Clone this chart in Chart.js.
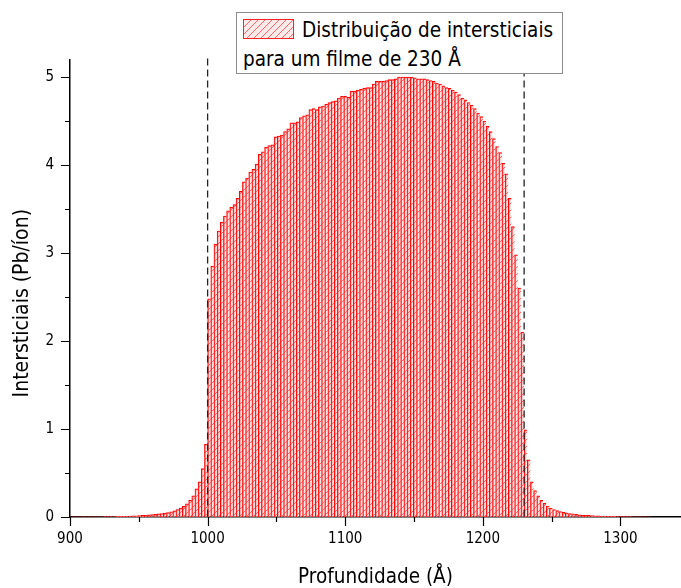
<!DOCTYPE html>
<html>
<head>
<meta charset="utf-8">
<script src="https://cdn.jsdelivr.net/npm/chart.js@4/dist/chart.umd.min.js"></script>
<style>
  html, body { margin: 0; padding: 0; background: #ffffff; }
  #wrap { position: relative; width: 681px; height: 588px; }
  #chart { position: absolute; left: 0; top: 0; }
  #legend {
    position: absolute; left: 236px; top: 12px; width: 325px; height: 60px;
    border: 1px solid #8c8c8c; background: #ffffff;
    font-family: 'DejaVu Sans Condensed', 'DejaVu Sans', sans-serif; font-size: 20.5px; color: #000;
  }
  #legend .swatch { position: absolute; left: 6px; top: 6px; width: 49px; height: 18px; border: 1px solid #ff2020; }
  #legend .l1 { position: absolute; left: 65px; top: 7px; line-height: 21px; white-space: nowrap; }
  #legend .l2 { position: absolute; left: 6px; top: 36px; line-height: 21px; white-space: nowrap; }
</style>
</head>
<body>
<div id="wrap">
  <canvas id="chart" width="681" height="588"></canvas>
  <div id="legend">
    <div class="swatch" id="swatch"></div>
    <div class="l1" id="legendLine1"></div>
    <div class="l2" id="legendLine2"></div>
  </div>
</div>
<script>
// ---------------- data ----------------
const firstBinEdge = 898.8;   // Å, left edge of first histogram bin
const binWidth = 2.3;         // Å per bin

// bins before the film (898.8 – 1000 Å)
const leftTail = [
  0.001, 0.001, 0.001, 0.001, 0.002, 0.002, 0.002, 0.002, 0.003, 0.003,
  0.003, 0.004, 0.004, 0.005, 0.006, 0.007, 0.008, 0.009, 0.010, 0.011,
  0.012, 0.014, 0.016, 0.018, 0.020, 0.024, 0.027, 0.030, 0.035, 0.040,
  0.045, 0.050, 0.060, 0.070, 0.085, 0.100, 0.120, 0.150, 0.190, 0.240,
  0.320, 0.400, 0.550, 0.830
];
// bins inside the 230 Å film (1000 – 1230 Å)
const filmProfile = [
  2.48, 2.85, 3.10, 3.25, 3.35, 3.42, 3.48, 3.52, 3.55, 3.62,
  3.70, 3.81, 3.85, 3.92, 3.95, 4.01, 4.12, 4.15, 4.20, 4.22,
  4.23, 4.32, 4.33, 4.34, 4.38, 4.41, 4.48, 4.48, 4.49, 4.54,
  4.56, 4.57, 4.63, 4.64, 4.63, 4.66, 4.67, 4.69, 4.71, 4.72,
  4.73, 4.76, 4.78, 4.78, 4.77, 4.84, 4.84, 4.85, 4.86, 4.87,
  4.88, 4.88, 4.92, 4.95, 4.95, 4.95, 4.96, 4.97, 4.97, 4.98,
  5.00, 5.00, 5.00, 5.00, 5.00, 4.99, 4.98, 4.98, 4.98, 4.97,
  4.96, 4.95, 4.93, 4.92, 4.90, 4.88, 4.87, 4.85, 4.83, 4.80,
  4.76, 4.74, 4.71, 4.68, 4.64, 4.59, 4.55, 4.50, 4.44, 4.38,
  4.30, 4.21, 4.14, 4.02, 3.90, 3.62, 3.30, 2.98, 2.60, 2.10
];
// bins after the film (1230 Å onward)
const rightTail = [
  0.990, 0.650, 0.400, 0.300, 0.240, 0.190, 0.155, 0.125, 0.100, 0.085,
  0.072, 0.062, 0.053, 0.046, 0.040, 0.035, 0.030, 0.026, 0.023, 0.020,
  0.018, 0.016, 0.014, 0.012, 0.011, 0.010, 0.009, 0.008, 0.007, 0.006,
  0.005, 0.005, 0.004, 0.004, 0.003, 0.002, 0.002, 0.001, 0.001, 0.001
];

const interstitials = leftTail.concat(filmProfile, rightTail);
const depths = interstitials.map((_, i) => +(firstBinEdge + binWidth * (i + 0.5)).toFixed(2));

const filmBoundaries = [1000, 1230];          // dashed markers
const xTickLabels = [900, 1000, 1100, 1200, 1300];
const yTickLabels = [0, 1, 2, 3, 4, 5];

const seriesLabel = ['Distribuição de intersticiais', 'para um filme de 230 Å'];
const xTitle = 'Profundidade (Å)';
const yTitle = 'Intersticiais (Pb/íon)';

// ---------------- styles ----------------
const FONT = "'DejaVu Sans Condensed', 'DejaVu Sans', sans-serif";

function makeHatch() {
  const s = 7;
  const c = document.createElement('canvas');
  c.width = s; c.height = s;
  const g = c.getContext('2d');
  g.fillStyle = 'rgba(255,215,215,0.55)';
  g.fillRect(0, 0, s, s);
  g.strokeStyle = 'rgba(255,70,70,0.8)';
  g.lineWidth = 1;
  g.beginPath();
  g.moveTo(-1, s + 1); g.lineTo(s + 1, -1);
  g.moveTo(-1, 1); g.lineTo(1, -1);
  g.moveTo(s - 1, s + 1); g.lineTo(s + 1, s - 1);
  g.stroke();
  return c;
}
const hatchCanvas = makeHatch();
const ctx = document.getElementById('chart').getContext('2d');
const hatch = ctx.createPattern(hatchCanvas, 'repeat');

// legend (HTML)
document.getElementById('legendLine1').textContent = seriesLabel[0];
document.getElementById('legendLine2').textContent = seriesLabel[1];
document.getElementById('swatch').style.background = 'url(' + hatchCanvas.toDataURL() + ')';

// plugin: tick marks (major + minor) and dashed film boundaries
const extras = {
  id: 'extras',
  afterDraw(chart) {
    const c = chart.ctx;
    const xs = chart.scales.x, ys = chart.scales.y;
    const area = chart.chartArea;
    c.save();
    c.strokeStyle = '#000';
    c.lineWidth = 1.2;
    c.beginPath();
    for (let v = 900; v <= xs.max; v += 50) {
      const px = Math.round(xs.getPixelForValue(v)) + 0.5;
      const len = xTickLabels.includes(v) ? 9 : 5;
      c.moveTo(px, area.bottom); c.lineTo(px, area.bottom + len);
    }
    for (let v = 0; v <= ys.max; v += 0.5) {
      const py = Math.round(ys.getPixelForValue(v)) + 0.5;
      const len = yTickLabels.includes(v) ? 9 : 5;
      c.moveTo(area.left, py); c.lineTo(area.left - len, py);
    }
    c.stroke();
    // dashed boundaries
    c.strokeStyle = '#222';
    c.lineWidth = 1.3;
    c.setLineDash([7, 4]);
    filmBoundaries.forEach(v => {
      const px = xs.getPixelForValue(v);
      c.beginPath();
      c.moveTo(px, area.top - 1);
      c.lineTo(px, area.bottom);
      c.stroke();
    });
    c.restore();
  }
};

new Chart(ctx, {
  type: 'bar',
  data: {
    labels: depths,
    datasets: [{
      label: seriesLabel.join(' '),
      data: depths.map((d, i) => ({ x: d, y: interstitials[i] })),
      backgroundColor: hatch,
      borderColor: '#ff0000',
      borderWidth: { top: 1, left: 1, right: 0, bottom: 0 },
      borderSkipped: 'start',
      barPercentage: 1,
      categoryPercentage: 1
    }]
  },
  options: {
    responsive: false,
    animation: false,
    devicePixelRatio: 1,
    layout: { padding: { top: 59.4, right: 0, left: 0, bottom: 0 } },
    plugins: { legend: { display: false }, tooltip: { enabled: false } },
    scales: {
      x: {
        type: 'linear',
        min: 900, max: 1344,
        offset: false,
        grid: { offset: false, display: false, drawOnChartArea: false, drawTicks: false },
        border: { display: true, color: '#000', width: 1.5 },
        ticks: {
          stepSize: 50, includeBounds: false, autoSkip: false, maxRotation: 0, padding: 13,
          color: '#000', font: { family: FONT, size: 15 },
          callback: (v) => xTickLabels.includes(v) ? String(v) : ''
        },
        title: { display: true, text: xTitle, color: '#000', font: { family: FONT, size: 20.5, lineHeight: 1 }, padding: { top: 0, bottom: 0 } },
        afterFit: (s) => { s.height = 71; }
      },
      y: {
        type: 'linear',
        min: 0, max: 5.2,
        grid: { display: false, drawOnChartArea: false, drawTicks: false },
        border: { display: true, color: '#000', width: 1.5 },
        ticks: {
          stepSize: 0.5, includeBounds: false, autoSkip: false, padding: 16,
          color: '#000', font: { family: FONT, size: 15 },
          callback: (v) => yTickLabels.includes(v) ? String(v) : ''
        },
        title: { display: true, text: yTitle + '\u00a0\u00a0\u00a0\u00a0\u00a0', color: '#000', font: { family: FONT, size: 21, lineHeight: 1 }, padding: { top: 12, bottom: 0 } },
        afterFit: (s) => { s.width = 70; }
      }
    }
  },
  plugins: [extras]
});
</script>
</body>
</html>
